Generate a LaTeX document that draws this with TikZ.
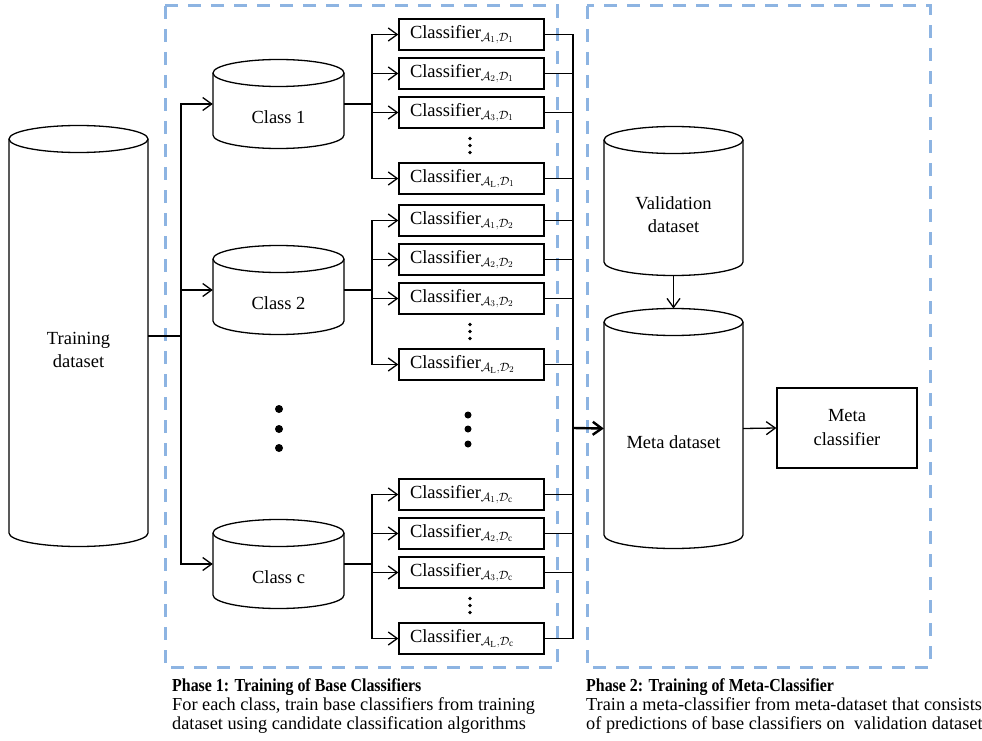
\documentclass[tikz,border=0pt]{standalone}
\usepackage{fontspec}
\setmainfont{Liberation Serif}
\usetikzlibrary{arrows.meta}
\definecolor{phaseblue}{RGB}{141,180,226}
\tikzset{
  wire/.style={line width=1.3pt},
  thickwire/.style={line width=2.1pt},
  arr/.style={line width=1.3pt, -{Straight Barb[length=9pt,width=13pt]}},
  cylline/.style={line width=1.3pt},
  cyltext/.style={align=center, inner sep=0pt, font=\fontsize{18.5}{23}\selectfont},
  clf/.style={draw, line width=1.3pt, minimum width=145pt, minimum height=31pt,
    inner ysep=0pt, inner xsep=11pt, text width=123pt, align=left,
    font=\fontsize{18.5}{22}\selectfont},
  phase/.style={draw=phaseblue, line width=3pt, dash pattern=on 13pt off 10pt},
  caption/.style={align=left, inner sep=0pt, font=\fontsize{18.3}{19}\selectfont},
  bigdot/.style={circle, fill=black, inner sep=0pt, minimum size=8pt},
  smalldot/.style={circle, fill=black, inner sep=0pt, minimum size=3.8pt}
}
% condensed bold heading line of a caption
\newcommand{\phasehead}[1]{\scalebox{0.87}[1]{\bfseries #1}}
% database cylinder: name, centre x, top-ellipse y, bottom-ellipse y, half width, label
\newcommand{\dbcyl}[6]{%
  \draw[cylline] ({#2-#5},#3) -- ({#2-#5},#4)
     arc[start angle=180, end angle=0, x radius=#5, y radius=13.5] -- ({#2+#5},#3);
  \draw[cylline] (#2,#3) ellipse[x radius=#5, y radius=13.5];
  \node[inner sep=0pt, minimum width={2*#5}, minimum height={#4-#3}] (#1) at (#2,{(#3+#4)/2}) {};
  \node[cyltext] (#1-text) at (#2,{(#3+#4)/2+13.5}) {#6};
}
\begin{document}
\begin{tikzpicture}[x=1pt, y=-1pt]
\useasboundingbox (0,0) rectangle (982,741);

% phase frames
\draw[phase] (165,6) rectangle (557,667);
\draw[phase] (587,6) rectangle (930,667);

% data stores
\dbcyl{train}{78.5}{139}{533}{69.5}{Training\\dataset}
\dbcyl{cls1}{278.5}{73}{135}{65.5}{Class 1}
\dbcyl{cls2}{278.5}{259}{321}{65.5}{Class 2}
\dbcyl{clsc}{278.5}{533}{595}{65.5}{Class c}
\dbcyl{valid}{673.5}{140}{262}{69.5}{Validation\\dataset}
\dbcyl{meta}{673.5}{322}{535}{69.5}{Meta dataset}

\node[draw, line width=1.3pt, minimum width=140pt, minimum height=80pt, align=center,
  inner sep=0pt, font=\fontsize{18.5}{24}\selectfont] (mclf) at (847,428) {Meta\\classifier};

% dots between classes
\node[bigdot] (cd1) at (279,409) {};
\node[bigdot] (cd2) at (279,429) {};
\node[bigdot] (cd3) at (279,448) {};
\node[bigdot, minimum size=7pt] (kd1) at (468,415) {};
\node[bigdot, minimum size=7pt] (kd2) at (468,429) {};
\node[bigdot, minimum size=7pt] (kd3) at (468,444) {};

% training set fans out to the classes
\coordinate (trunk) at (181,336);
\draw[thickwire] (train.east) -- (trunk);
\draw[wire] (181,104) -- (181,564);
\draw[arr] (trunk) |- (cls1.west);
\draw[arr] (trunk) |- (cls2.west);
\draw[arr] (trunk) |- (clsc.west);

% collector of all base classifiers
\coordinate (coltop) at (573,34.5);
\coordinate (colbot) at (573,639);
\coordinate (colout) at (573,428);
\draw[wire] (coltop) -- (colbot);

% base classifiers of each class
\foreach \g/\y/\d/\cls in {1/34.5/1/cls1, 2/220.5/2/cls2, c/494.5/\mathrm{c}/clsc} {
  \node[clf] (clf-\g-1) at (471.5,\y) {Classifier$_{\mathcal{A}_1,\mathcal{D}_{\d}}$};
  \node[clf] (clf-\g-2) at (471.5,\y+39) {Classifier$_{\mathcal{A}_2,\mathcal{D}_{\d}}$};
  \node[clf] (clf-\g-3) at (471.5,\y+78) {Classifier$_{\mathcal{A}_3,\mathcal{D}_{\d}}$};
  \node[clf] (clf-\g-L) at (471.5,\y+144) {Classifier$_{\mathcal{A}_{\mathrm{L}},\mathcal{D}_{\d}}$};
  \node[smalldot] (sd-\g-1) at (470,\y+104) {};
  \node[smalldot] (sd-\g-2) at (470,\y+111) {};
  \node[smalldot] (sd-\g-3) at (470,\y+118) {};
  \coordinate (br-\g) at (372,\y+69.5);
  \draw[thickwire] (\cls.east) -- (br-\g);
  \draw[wire] (372,\y) -- (372,\y+144);
  \foreach \k in {1,2,3,L} {
    \draw[arr] (br-\g) |- (clf-\g-\k.west);
    \draw[wire] (clf-\g-\k.east) -- (clf-\g-\k.east -| coltop);
  }
}

% phase 2 flow
\draw[line width=2.4pt, -{Straight Barb[length=9pt,width=13pt]}] (colout) -- (meta.west);
\draw[arr] (valid.south |- 0,275.5) -- (meta.north |- 0,308.5);
\draw[arr] (meta.east) -- (mclf.west);

% captions
\node[caption, anchor=north west] (cap1) at (172,678)
  {\phasehead{Phase 1: Training of Base Classifiers}\\
   For each class, train base classifiers from training\\
   dataset using candidate classification algorithms};
\node[caption, anchor=north west] (cap2) at (586,678)
  {\phasehead{Phase 2: Training of Meta-Classifier}\\
   Train a meta-classifier from meta-dataset that consists\\
   of predictions of base classifiers on \ validation dataset};
\end{tikzpicture}
\end{document}
